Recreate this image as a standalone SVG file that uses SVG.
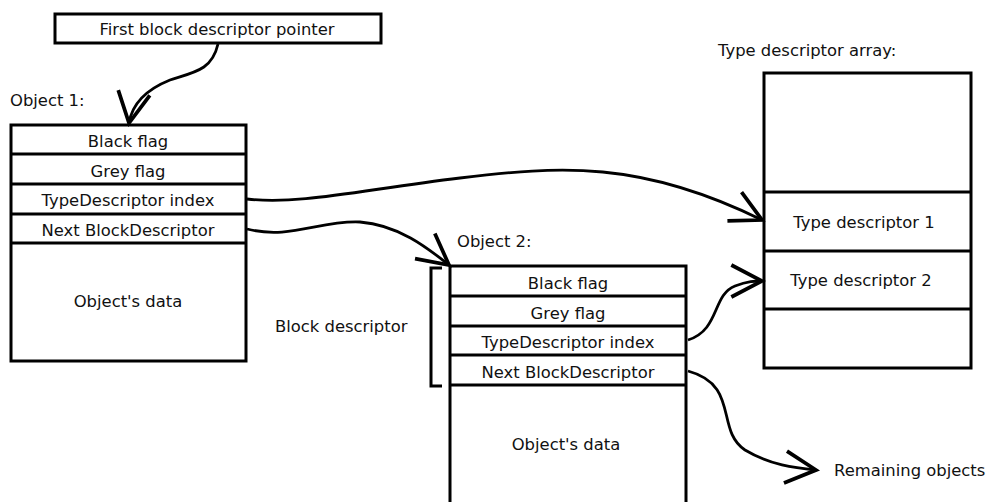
<svg xmlns="http://www.w3.org/2000/svg" width="991" height="502" viewBox="0 0 991 502">
<style>
.box{fill:#fff;stroke:#000;stroke-width:3}
.ln{stroke:#000;stroke-width:3;fill:none}
.t{font-family:"DejaVu Sans",sans-serif;font-size:16.4px;fill:#111}
.c{text-anchor:middle}
.con{fill:none;stroke:#000;stroke-width:2.8}
</style>
<defs>
<marker id="ah" markerWidth="40" markerHeight="40" refX="0" refY="0" viewBox="-26 -15 28 30" markerUnits="userSpaceOnUse" orient="auto">
<path d="M-23,-12 L0,0 L-23,12" fill="none" stroke="#000" stroke-width="2.8"/>
</marker>
</defs>
<rect width="991" height="502" fill="#fff"/>
<g id="first-pointer">
<rect class="box" x="55" y="14" width="326" height="29"/>
<text class="t c" x="217" y="35">First block descriptor pointer</text>
</g>
<g id="object1">
<text class="t" x="10" y="106">Object 1:</text>
<rect class="box" x="11" y="125" width="235" height="236"/>
<line class="ln" x1="11" y1="154" x2="246" y2="154"/>
<line class="ln" x1="11" y1="184" x2="246" y2="184"/>
<line class="ln" x1="11" y1="214" x2="246" y2="214"/>
<line class="ln" x1="11" y1="243" x2="246" y2="243"/>
<text class="t c" x="128" y="147">Black flag</text>
<text class="t c" x="128" y="177">Grey flag</text>
<text class="t c" x="128" y="206">TypeDescriptor index</text>
<text class="t c" x="128" y="236">Next BlockDescriptor</text>
<text class="t c" x="128" y="307">Object's data</text>
</g>
<g id="object2">
<text class="t" x="457" y="247">Object 2:</text>
<rect class="box" x="450" y="266" width="236" height="240"/>
<line class="ln" x1="450" y1="296" x2="686" y2="296"/>
<line class="ln" x1="450" y1="326" x2="686" y2="326"/>
<line class="ln" x1="450" y1="355" x2="686" y2="355"/>
<line class="ln" x1="450" y1="385" x2="686" y2="385"/>
<text class="t c" x="568" y="289">Black flag</text>
<text class="t c" x="568" y="319">Grey flag</text>
<text class="t c" x="568" y="348">TypeDescriptor index</text>
<text class="t c" x="568" y="378">Next BlockDescriptor</text>
<text class="t c" x="566" y="450">Object's data</text>
</g>
<g id="block-descriptor">
<path class="ln" d="M442,268 H431 V386 H442"/>
<text class="t" x="275" y="332">Block descriptor</text>
</g>
<g id="type-array">
<text class="t" x="718" y="56">Type descriptor array:</text>
<rect class="box" x="764" y="73" width="207" height="295"/>
<line class="ln" x1="764" y1="192" x2="971" y2="192"/>
<line class="ln" x1="764" y1="251" x2="971" y2="251"/>
<line class="ln" x1="764" y1="309" x2="971" y2="309"/>
<text class="t c" x="864" y="228">Type descriptor 1</text>
<text class="t c" x="861" y="286">Type descriptor 2</text>
</g>
<g id="remaining">
<text class="t" x="834" y="476">Remaining objects</text>
</g>
<g id="connectors">
<path class="con" marker-end="url(#ah)" d="M218,44 C212,70 195,72 170,80 C145,90 132,105 129,123"/>
<path class="con" marker-end="url(#ah)" d="M247,199 C300,205 360,190 460,178 C560,166 640,160 762,220"/>
<path class="con" marker-end="url(#ah)" d="M247,229 C290,240 320,220 360,222 C400,225 430,250 449,265"/>
<path class="con" marker-end="url(#ah)" d="M688,340 C720,330 712,295 735,286 C748,281 755,281 762,281"/>
<path class="con" marker-end="url(#ah)" d="M688,371 C740,385 715,430 745,450 C770,465 795,468 816,470"/>
</g>
</svg>
